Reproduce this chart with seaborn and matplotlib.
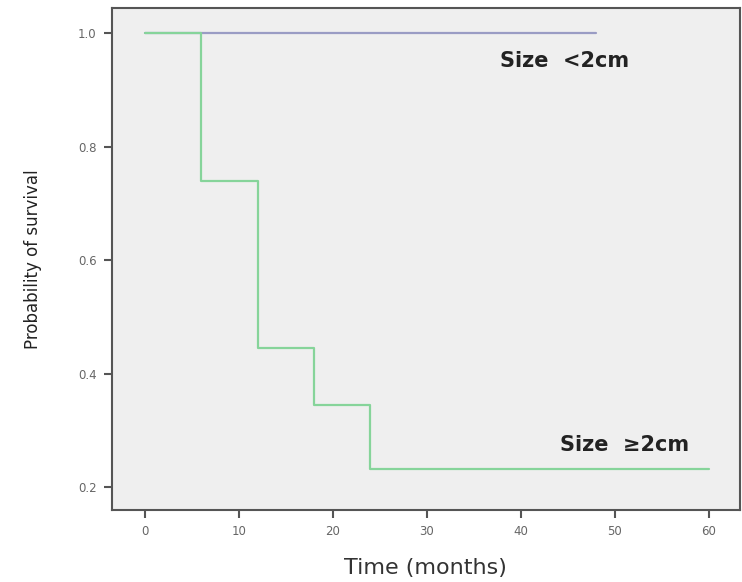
import matplotlib.pyplot as plt
import pandas as pd
import seaborn as sns

# Kaplan-Meier step points
time_small = [0, 48]
surv_small = [1.0, 1.0]

time_large = [0, 6, 12, 18, 24, 60]
surv_large = [1.0, 0.74, 0.445, 0.345, 0.232, 0.232]

x_ticks = [0, 10, 20, 30, 40, 50, 60]
y_ticks = [0.2, 0.4, 0.6, 0.8, 1.0]

df = pd.concat(
    [
        pd.DataFrame({"time": time_small, "surv": surv_small, "group": "Size <2cm"}),
        pd.DataFrame({"time": time_large, "surv": surv_large, "group": "Size \u22652cm"}),
    ],
    ignore_index=True,
)

sns.set_style("ticks")
plt.rcParams["font.family"] = ["DejaVu Sans"]

fig = plt.figure(figsize=(7.42, 5.82), dpi=100)
ax = fig.add_axes([0.151, 0.124, 0.846, 0.862])
ax.set_facecolor("#efefef")

sns.lineplot(
    data=df, x="time", y="surv", hue="group",
    palette={"Size <2cm": "#9a9cc4", "Size \u22652cm": "#86d49a"},
    drawstyle="steps-post", linewidth=1.6, legend=False, ax=ax,
)

ax.set_xlim(-3.5, 63.3)
ax.set_ylim(0.16, 1.044)
ax.set_xticks(x_ticks)
ax.set_yticks(y_ticks)
ax.set_yticklabels([f"{v:.1f}" for v in y_ticks])
ax.tick_params(colors="#555555", labelsize=8.5, length=6, width=1.5,
               labelcolor="#666666", pad=5)
for s in ax.spines.values():
    s.set_visible(True)
    s.set_color("#555555")
    s.set_linewidth(1.5)

ax.set_xlabel("Time (months)", fontsize=16, color="#333333", labelpad=14)
ax.set_ylabel("Probability of survival", fontsize=12, color="#222222", labelpad=26)

ax.text(37.8, 0.95, "Size  <2cm", fontsize=15, fontweight="bold", color="#222222", va="center")
ax.text(44.2, 0.275, "Size  \u22652cm", fontsize=15, fontweight="bold", color="#222222", va="center")

fig.savefig("out.png", dpi=100)
